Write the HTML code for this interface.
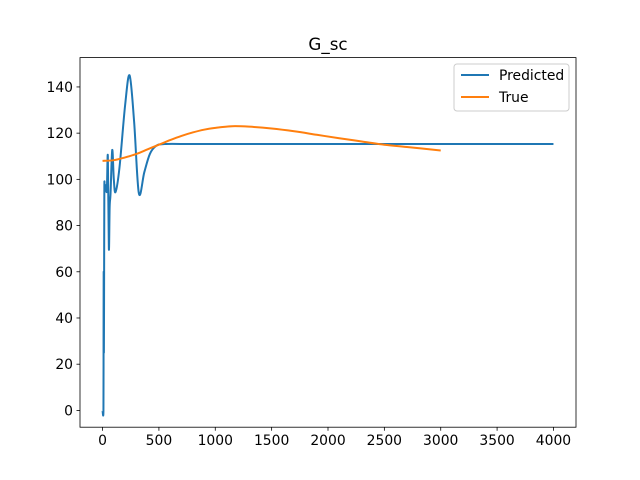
<!DOCTYPE html>
<html><head><meta charset="utf-8"><style>
html,body{margin:0;padding:0;background:#fff}
svg{display:block;font-family:"DejaVu Sans","Liberation Sans",sans-serif}
</style></head><body>
<svg id="chart" width="640" height="480">
<rect x="0" y="0" width="640" height="480" fill="#fff"/>
<text x="328" y="50" text-anchor="middle" font-size="16.7">G_sc</text>
<g id="ticks"></g>
<g id="series"></g>
<rect x="80" y="57.6" width="496" height="369.6" fill="none" stroke="#000" stroke-width="0.8"/>
<g>
<rect x="454" y="64" width="115" height="47" rx="3" fill="#fff" fill-opacity="0.8" stroke="#ccc" stroke-width="1"/>
<g>
<line x1="461" y1="75" x2="489" y2="75" stroke="#1f77b4" stroke-width="2"/>
<text x="499" y="80" font-size="13.9">Predicted</text></g>
<g>
<line x1="461" y1="97" x2="489" y2="97" stroke="#ff7f0e" stroke-width="2"/>
<text x="499" y="102" font-size="13.9">True</text></g>
</g>
</svg>
<script>
const xTicks=[0,500,1000,1500,2000,2500,3000,3500,4000];
const yTicks=[0,20,40,60,80,100,120,140];
const predT=[0,8,9,10,12,14,16,20,27,38,47,56,63,71,86,100,115,150,200,240,280,322,370,420,476,550,772,1000,2000,3000,4000];
const predV=[0,0,30,60,25,60,97,95,97.5,95,110,70,88,94,112.7,100,94.5,105,132,145,125,94,103,111,114.5,115.3,115.3,115.3,115.3,115.3,115.3];
const trueT=[0,100,200,300,400,500,600,700,800,900,1000,1150,1300,1500,1700,1900,2100,2300,2500,2700,3000];
const trueV=[108,108.3,109.5,111,113,115,117,118.8,120.3,121.5,122.3,123,122.8,122,120.8,119.3,117.8,116.4,115,114,112.5];
const NS='http://www.w3.org/2000/svg';
const X0=80,X1=576,Y0=427.2,Y1=57.6,xmin=-200,xmax=4200,ymin=-7.27,ymax=152.7;
function sx(v){return X0+(v-xmin)/(xmax-xmin)*(X1-X0);}
function sy(v){return Y0-(v-ymin)/(ymax-ymin)*(Y0-Y1);}
const tk=document.getElementById('ticks');
xTicks.forEach(t=>{
 const l=document.createElementNS(NS,'line');l.setAttribute('x1',sx(t));l.setAttribute('x2',sx(t));l.setAttribute('y1',Y0);l.setAttribute('y2',Y0+3.5);l.setAttribute('stroke','#000');l.setAttribute('stroke-width','0.8');
 
 
 tk.appendChild(l);
 const tx=document.createElementNS(NS,'text');tx.setAttribute('x',sx(t));tx.setAttribute('y',Y0+18);tx.setAttribute('text-anchor','middle');tx.setAttribute('font-size','13.9');tx.textContent=t;
 
 
 tk.appendChild(tx);
});
yTicks.forEach(t=>{
 const l=document.createElementNS(NS,'line');l.setAttribute('x1',X0-3.5);l.setAttribute('x2',X0);l.setAttribute('y1',sy(t));l.setAttribute('y2',sy(t));l.setAttribute('stroke','#000');l.setAttribute('stroke-width','0.8');
 
 
 tk.appendChild(l);
 const tx=document.createElementNS(NS,'text');tx.setAttribute('x',X0-7);tx.setAttribute('y',sy(t)+5);tx.setAttribute('text-anchor','end');tx.setAttribute('font-size','13.9');tx.textContent=t;
 
 
 tk.appendChild(tx);
});
function path(ts,vs){
 const p=ts.map((t,i)=>[sx(t),sy(vs[i])]);
 let d='M'+p[0][0]+','+p[0][1];
 for(let i=0;i<p.length-1;i++){
  const p0=p[i-1]||p[i],p1=p[i],p2=p[i+1],p3=p[i+2]||p2;
  const c1=[p1[0]+(p2[0]-p0[0])/6,p1[1]+(p2[1]-p0[1])/6];
  const c2=[p2[0]-(p3[0]-p1[0])/6,p2[1]-(p3[1]-p1[1])/6];
  d+=' C'+c1+' '+c2+' '+p2;
 }
 return d;
}
const sg=document.getElementById('series');
[[predT,predV,'#1f77b4','series-predicted'],[trueT,trueV,'#ff7f0e','series-true']].forEach(s=>{
 const e=document.createElementNS(NS,'path');e.setAttribute('d',path(s[0],s[1]));e.setAttribute('fill','none');e.setAttribute('stroke',s[2]);e.setAttribute('stroke-width','2');e.setAttribute('stroke-linejoin','round');
 
 
 sg.appendChild(e);
});
</script>
</body></html>
